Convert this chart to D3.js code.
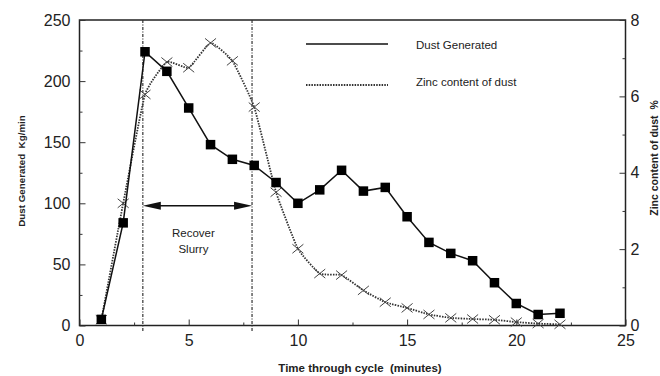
<!DOCTYPE html>
<html>
<head>
<meta charset="utf-8">
<script src="https://cdn.jsdelivr.net/npm/d3@7"></script>
<style>
  body { margin: 0; background: #fff; }
  svg { font-family: "Liberation Sans", Arial, sans-serif; }
</style>
</head>
<body>
<div id="chart"></div>
<script>
// data
var time = [1, 2, 3, 4, 5, 6, 7, 8, 9, 10, 11, 12, 13, 14, 15, 16, 17, 18, 19, 20, 21, 22];
var dust = [5, 84, 224, 208, 178, 148, 136, 131, 117, 100, 111, 127, 110, 113, 89, 68, 59, 53, 35, 18, 9, 10];
var zinc = [0.15, 3.2, 6.05, 6.9, 6.75, 7.4, 6.93, 5.72, 3.49, 2.01, 1.36, 1.32, 0.92, 0.61, 0.46, 0.29, 0.2, 0.17, 0.15, 0.09, 0.05, 0.03];
var xTicks = [0, 5, 10, 15, 20, 25];
var leftTicks = [0, 50, 100, 150, 200, 250];
var rightTicks = [0, 2, 4, 6, 8];
var recover = [2.9, 7.9];   // vertical marker lines (minutes)
var arrowLevel = 98;        // kg/min

var width = 660, height = 376;
var margin = {top: 20, right: 34.5, bottom: 50.5, left: 79.5};

var svg = d3.select("#chart")
    .append("svg")
        .attr("width", width)
        .attr("height", height);

var xScale = d3.scaleLinear()
    .domain([0, 25])
    .range([margin.left, width - margin.right]);

var yLeft = d3.scaleLinear()
    .domain([0, 250])
    .range([height - margin.bottom, margin.top]);

var yRight = d3.scaleLinear()
    .domain([0, 8])
    .range([height - margin.bottom, margin.top]);

var x0 = margin.left, x1 = width - margin.right;
var y0 = height - margin.bottom, y1 = margin.top;

// frame
svg.append("rect")
    .attr("x", x0).attr("y", y1)
    .attr("width", x1 - x0).attr("height", y0 - y1)
    .attr("fill", "none")
    .attr("stroke", "#222")
    .attr("stroke-width", 1.5);

function styleAxis(g) {
    g.select(".domain").remove();
    g.selectAll("line").attr("stroke", "#333").attr("stroke-width", 1);
    g.selectAll("text")
        .attr("font-size", "16px")
        .attr("fill", "#222")
        .attr("font-family", "Liberation Sans, Arial, sans-serif");
}

// axes (ticks pointing inward)
svg.append("g")
    .attr("transform", "translate(0," + y0 + ")")
    .call(d3.axisBottom(xScale).tickValues(xTicks).tickSize(-6).tickPadding(9))
    .call(styleAxis);
svg.append("g")
    .attr("transform", "translate(0," + y0 + ")")
    .call(d3.axisBottom(xScale).tickValues([2.5, 7.5, 12.5, 17.5, 22.5]).tickSize(-3).tickFormat(""))
    .call(styleAxis);

svg.append("g")
    .attr("transform", "translate(" + x0 + ",0)")
    .call(d3.axisLeft(yLeft).tickValues(leftTicks).tickSize(-6).tickPadding(9))
    .call(styleAxis);
svg.append("g")
    .attr("transform", "translate(" + x0 + ",0)")
    .call(d3.axisLeft(yLeft).tickValues([25, 75, 125, 175, 225]).tickSize(-3).tickFormat(""))
    .call(styleAxis);

svg.append("g")
    .attr("transform", "translate(" + x1 + ",0)")
    .call(d3.axisRight(yRight).tickValues(rightTicks).tickSize(-6).tickPadding(5))
    .call(styleAxis);
svg.append("g")
    .attr("transform", "translate(" + x1 + ",0)")
    .call(d3.axisRight(yRight).tickValues([1, 3, 5, 7]).tickSize(-3).tickFormat(""))
    .call(styleAxis);

// axis titles
svg.append("text")
    .attr("transform", "translate(25," + 171 + ") rotate(-90)")
    .attr("text-anchor", "middle")
    .attr("font-size", "9.8px")
    .attr("font-weight", "bold")
    .attr("fill", "#222")
    .attr("xml:space", "preserve")
    .text("Dust Generated  Kg/min");

svg.append("text")
    .attr("x", 360)
    .attr("y", 372)
    .attr("text-anchor", "middle")
    .attr("font-size", "11.5px")
    .attr("font-weight", "bold")
    .attr("fill", "#222")
    .attr("xml:space", "preserve")
    .text("Time through cycle  (minutes)");

svg.append("text")
    .attr("transform", "translate(658," + 158 + ") rotate(-90)")
    .attr("text-anchor", "middle")
    .attr("font-size", "10.5px")
    .attr("font-weight", "bold")
    .attr("fill", "#222")
    .attr("xml:space", "preserve")
    .text("Zinc content of dust  %");

// recover slurry markers
svg.selectAll(".recover")
    .data(recover)
    .enter()
    .append("line")
        .attr("x1", d => xScale(d))
        .attr("x2", d => xScale(d))
        .attr("y1", y1)
        .attr("y2", y0 + 6)
        .attr("stroke", "#333")
        .attr("stroke-width", 1.2)
        .attr("stroke-dasharray", "3,1.5,1,1.5");

var ay = yLeft(arrowLevel);
var ax0 = xScale(recover[0]), ax1 = xScale(recover[1]);
svg.append("line")
    .attr("x1", ax0 + 10).attr("x2", ax1 - 10)
    .attr("y1", ay).attr("y2", ay)
    .attr("stroke", "#111")
    .attr("stroke-width", 1.5);
svg.append("path")
    .attr("d", "M" + ax0 + "," + ay + "L" + (ax0 + 18) + "," + (ay - 4) + "L" + (ax0 + 18) + "," + (ay + 4) + "Z")
    .attr("fill", "#111");
svg.append("path")
    .attr("d", "M" + ax1 + "," + ay + "L" + (ax1 - 18) + "," + (ay - 4) + "L" + (ax1 - 18) + "," + (ay + 4) + "Z")
    .attr("fill", "#111");

var midX = (ax0 + ax1) / 2 - 4;
svg.append("text")
    .attr("x", midX).attr("y", 237)
    .attr("text-anchor", "middle")
    .attr("font-size", "11.5px")
    .attr("fill", "#222")
    .text("Recover");
svg.append("text")
    .attr("x", midX).attr("y", 253)
    .attr("text-anchor", "middle")
    .attr("font-size", "11.5px")
    .attr("fill", "#222")
    .text("Slurry");

// zinc content line (dotted)
var zincLine = d3.line()
    .x((d, i) => xScale(time[i]))
    .y(d => yRight(d))
    .curve(d3.curveCardinal.tension(0.6));

svg.append("path")
    .datum(zinc)
    .attr("d", zincLine)
    .attr("fill", "none")
    .attr("stroke", "#333")
    .attr("stroke-width", 1.8)
    .attr("stroke-dasharray", "1.5,1.2");

svg.append("g")
    .selectAll("path")
    .data(zinc)
    .enter()
    .append("path")
        .attr("transform", (d, i) => "translate(" + xScale(time[i]) + "," + yRight(d) + ")")
        .attr("d", "M-5.5,-4.5L5.5,4.5M-5.5,4.5L5.5,-4.5")
        .attr("stroke", "#444")
        .attr("stroke-width", 1)
        .attr("fill", "none");

// dust generated line
var dustLine = d3.line()
    .x((d, i) => xScale(time[i]))
    .y(d => yLeft(d));

svg.append("path")
    .datum(dust)
    .attr("d", dustLine)
    .attr("fill", "none")
    .attr("stroke", "#111")
    .attr("stroke-width", 1.5);

svg.append("g")
    .selectAll("rect")
    .data(dust)
    .enter()
    .append("rect")
        .attr("x", (d, i) => xScale(time[i]) - 4.75)
        .attr("y", d => yLeft(d) - 4.75)
        .attr("width", 9.5)
        .attr("height", 9.5)
        .attr("fill", "#000");

// legend
svg.append("line")
    .attr("x1", 306).attr("x2", 388)
    .attr("y1", 44).attr("y2", 44)
    .attr("stroke", "#111")
    .attr("stroke-width", 1.5);
svg.append("line")
    .attr("x1", 306).attr("x2", 388)
    .attr("y1", 85).attr("y2", 85)
    .attr("stroke", "#333")
    .attr("stroke-width", 1.8)
    .attr("stroke-dasharray", "1.5,1.2");
svg.append("text")
    .attr("x", 416).attr("y", 49)
    .attr("font-size", "11.5px")
    .attr("fill", "#222")
    .text("Dust Generated");
svg.append("text")
    .attr("x", 416).attr("y", 86)
    .attr("font-size", "11.5px")
    .attr("fill", "#222")
    .text("Zinc content of dust");
</script>
</body>
</html>
